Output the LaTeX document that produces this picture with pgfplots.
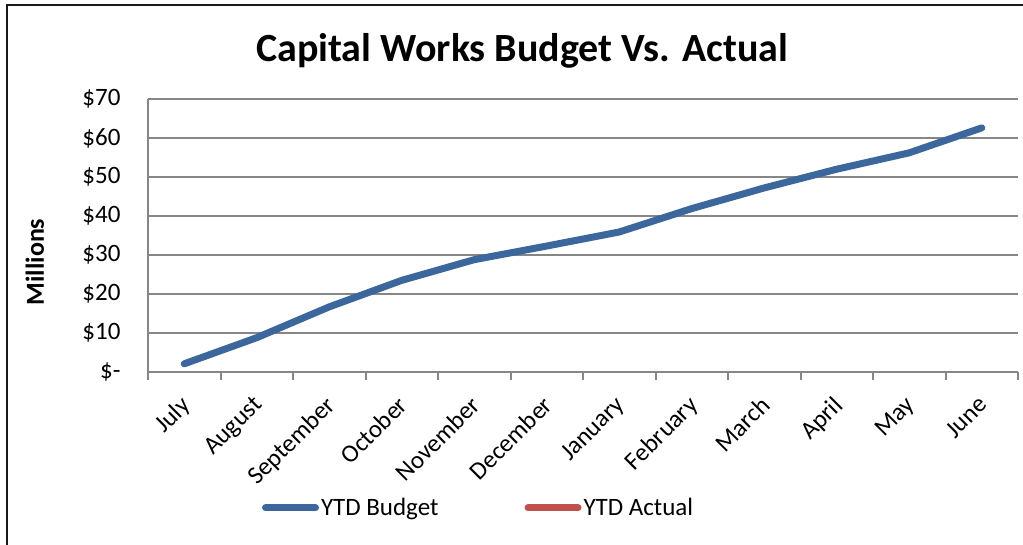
\documentclass[border=0pt]{standalone}
\usepackage{fontspec}
\setmainfont{Carlito}
\usepackage{pgfplots}
\pgfplotsset{compat=1.18}
\definecolor{budgetblue}{HTML}{3C679C}
\definecolor{actualred}{HTML}{C0504D}
\definecolor{gridgray}{HTML}{868686}

\begin{document}
\begin{tikzpicture}[x=1pt,y=1pt]
\useasboundingbox (0,0) rectangle (1023,544);
% chart frame (right and bottom edges run off the picture)
\draw[line width=2.5pt,black!90] (7,-20) -- (7,539) -- (1040,539);
\begin{axis}[
    at={(148pt,172pt)},
    anchor=south west,
    scale only axis,
    width=870pt,
    height=273pt,
    xmin=-0.5, xmax=11.5,
    ymin=0, ymax=70,
    xtick={0,...,11},
    xticklabels={July,August,September,October,November,December,January,February,March,April,May,June},
    minor xtick={-0.5,0.5,...,11.5},
    major tick length=0pt,
    minor tick length=8pt,
    tick align=outside,
    ytick={0,10,...,70},
    yticklabels={\$-,\$10,\$20,\$30,\$40,\$50,\$60,\$70},
    axis x line*=bottom,
    axis y line*=left,
    axis line style={gridgray, line width=2pt},
    every tick/.style={gridgray, line width=2pt},
    ymajorgrids,
    grid style={gridgray, line width=2pt},
    tick label style={font=\fontsize{25}{30}\selectfont},
    yticklabel style={xshift=-24pt},
    xticklabel style={rotate=45, anchor=north east, xshift=-16pt, yshift=-9pt},
    ylabel={\textbf{Millions}},
    ylabel style={font=\fontsize{26}{30}\selectfont, at={(axis description cs:-0.13,0.403)}, anchor=center, rotate=0},
    title={\textbf{Capital Works Budget Vs. Actual}},
    title style={font=\fontsize{40}{46}\selectfont, at={(axis description cs:0.43,1.117)}, anchor=base},
    legend style={
        at={(axis description cs:0.38,-0.498)},
        anchor=center,
        draw=none,
        font=\fontsize{25}{30}\selectfont,
        legend columns=2,
        /tikz/every even column/.append style={column sep=84pt},
        inner sep=0pt,
    },
    legend cell align=left,
    legend image code/.code={\draw[#1] (0pt,0pt) -- (50pt,0pt);},
    clip=false,
]
\addplot[budgetblue, line width=7pt, line join=round, line cap=round, mark=none] coordinates {
    (0,2.1) (1,8.8) (2,16.7) (3,23.5) (4,28.8) (5,32.3)
    (6,35.9) (7,41.9) (8,47.2) (9,52.0) (10,56.2) (11,62.6)
};
\addlegendentry{YTD Budget}
\addlegendimage{actualred, line width=7pt, line cap=round}
\addlegendentry{YTD Actual}
\end{axis}
\end{tikzpicture}
\end{document}
